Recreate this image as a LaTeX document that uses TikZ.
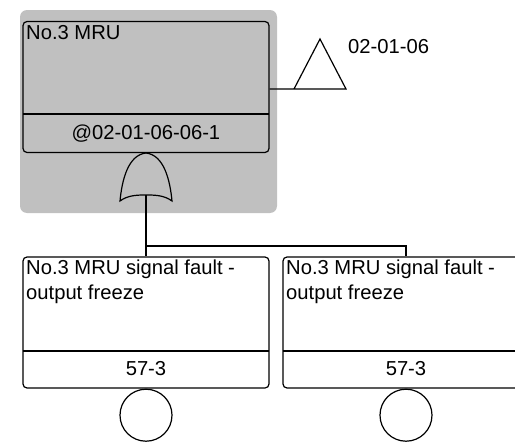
\documentclass[tikz,border=0pt]{standalone}
\usepackage{fontspec}
\setmainfont{Liberation Sans}
\usetikzlibrary{positioning}
\definecolor{panel}{HTML}{C0C0C0}
\tikzset{
  evbox/.style={draw,rounded corners=4pt,line width=1.2pt,minimum width=246pt,minimum height=131pt,inner sep=0pt},
  evtext/.style={font=\fontsize{20.2}{25}\selectfont,inner sep=0pt,align=left},
  wire/.style={line width=1.2pt},
  undev/.style={draw,circle,line width=1.2pt,minimum size=52pt,inner sep=0pt},
}

\begin{document}
\begin{tikzpicture}[x=1pt,y=-1pt]
  \useasboundingbox (0,0) rectangle (515,442);
  % gate panel
  \fill[panel,rounded corners=7pt] (20,10) rectangle (277,213);
  % top event
  \node[evbox] (top) at (146,87) {};
  \draw[wire] (23,114) -- (269,114);
  \node[evtext,anchor=base west] (toptxt) at (26,39) {No.3 MRU};
  \node[evtext,anchor=base] (topid) at (146,139) {@02-01-06-06-1};
  % transfer triangle
  \coordinate (xl) at (294,89);
  \coordinate (xr) at (346,89);
  \coordinate (xa) at (320,39);
  \draw[wire] (top.east |- xl) -- (xr) -- (xa) -- (xl);
  \node[evtext,anchor=base west] (xfer) at (348,53) {02-01-06};
  % OR gate
  \coordinate (gate) at (146,195);
  \draw[wire] (146,153) .. controls (128,155) and (122,180) .. (120,201)
    .. controls (128,195) and (138,195) .. (gate)
    .. controls (154,195) and (164,195) .. (172,201)
    .. controls (170,180) and (164,155) .. (146,153);
  % basic events
  \node[evbox] (left) at (146,322.5) {};
  \node[evbox] (right) at (406,322.5) {};
  \draw[wire] (23,351) -- (269,351);
  \draw[wire] (283,351) -- (529,351);
  \node[evtext,anchor=base west] (lefttxt) at (26,299) {No.3 MRU signal fault -\\output freeze};
  \node[evtext,anchor=base west] (righttxt) at (286,299) {No.3 MRU signal fault -\\output freeze};
  \node[evtext,anchor=base] (leftid) at (146,375) {57-3};
  \node[evtext,anchor=base] (rightid) at (406,375) {57-3};
  \node[undev,below=0pt of left] (leftc) {};
  \node[undev,below=0pt of right] (rightc) {};
  % connectors
  \coordinate (bus) at (146,246);
  \draw[wire] (gate) -- (left.north);
  \draw[wire] (bus) -| (right.north);
\end{tikzpicture}
\end{document}
